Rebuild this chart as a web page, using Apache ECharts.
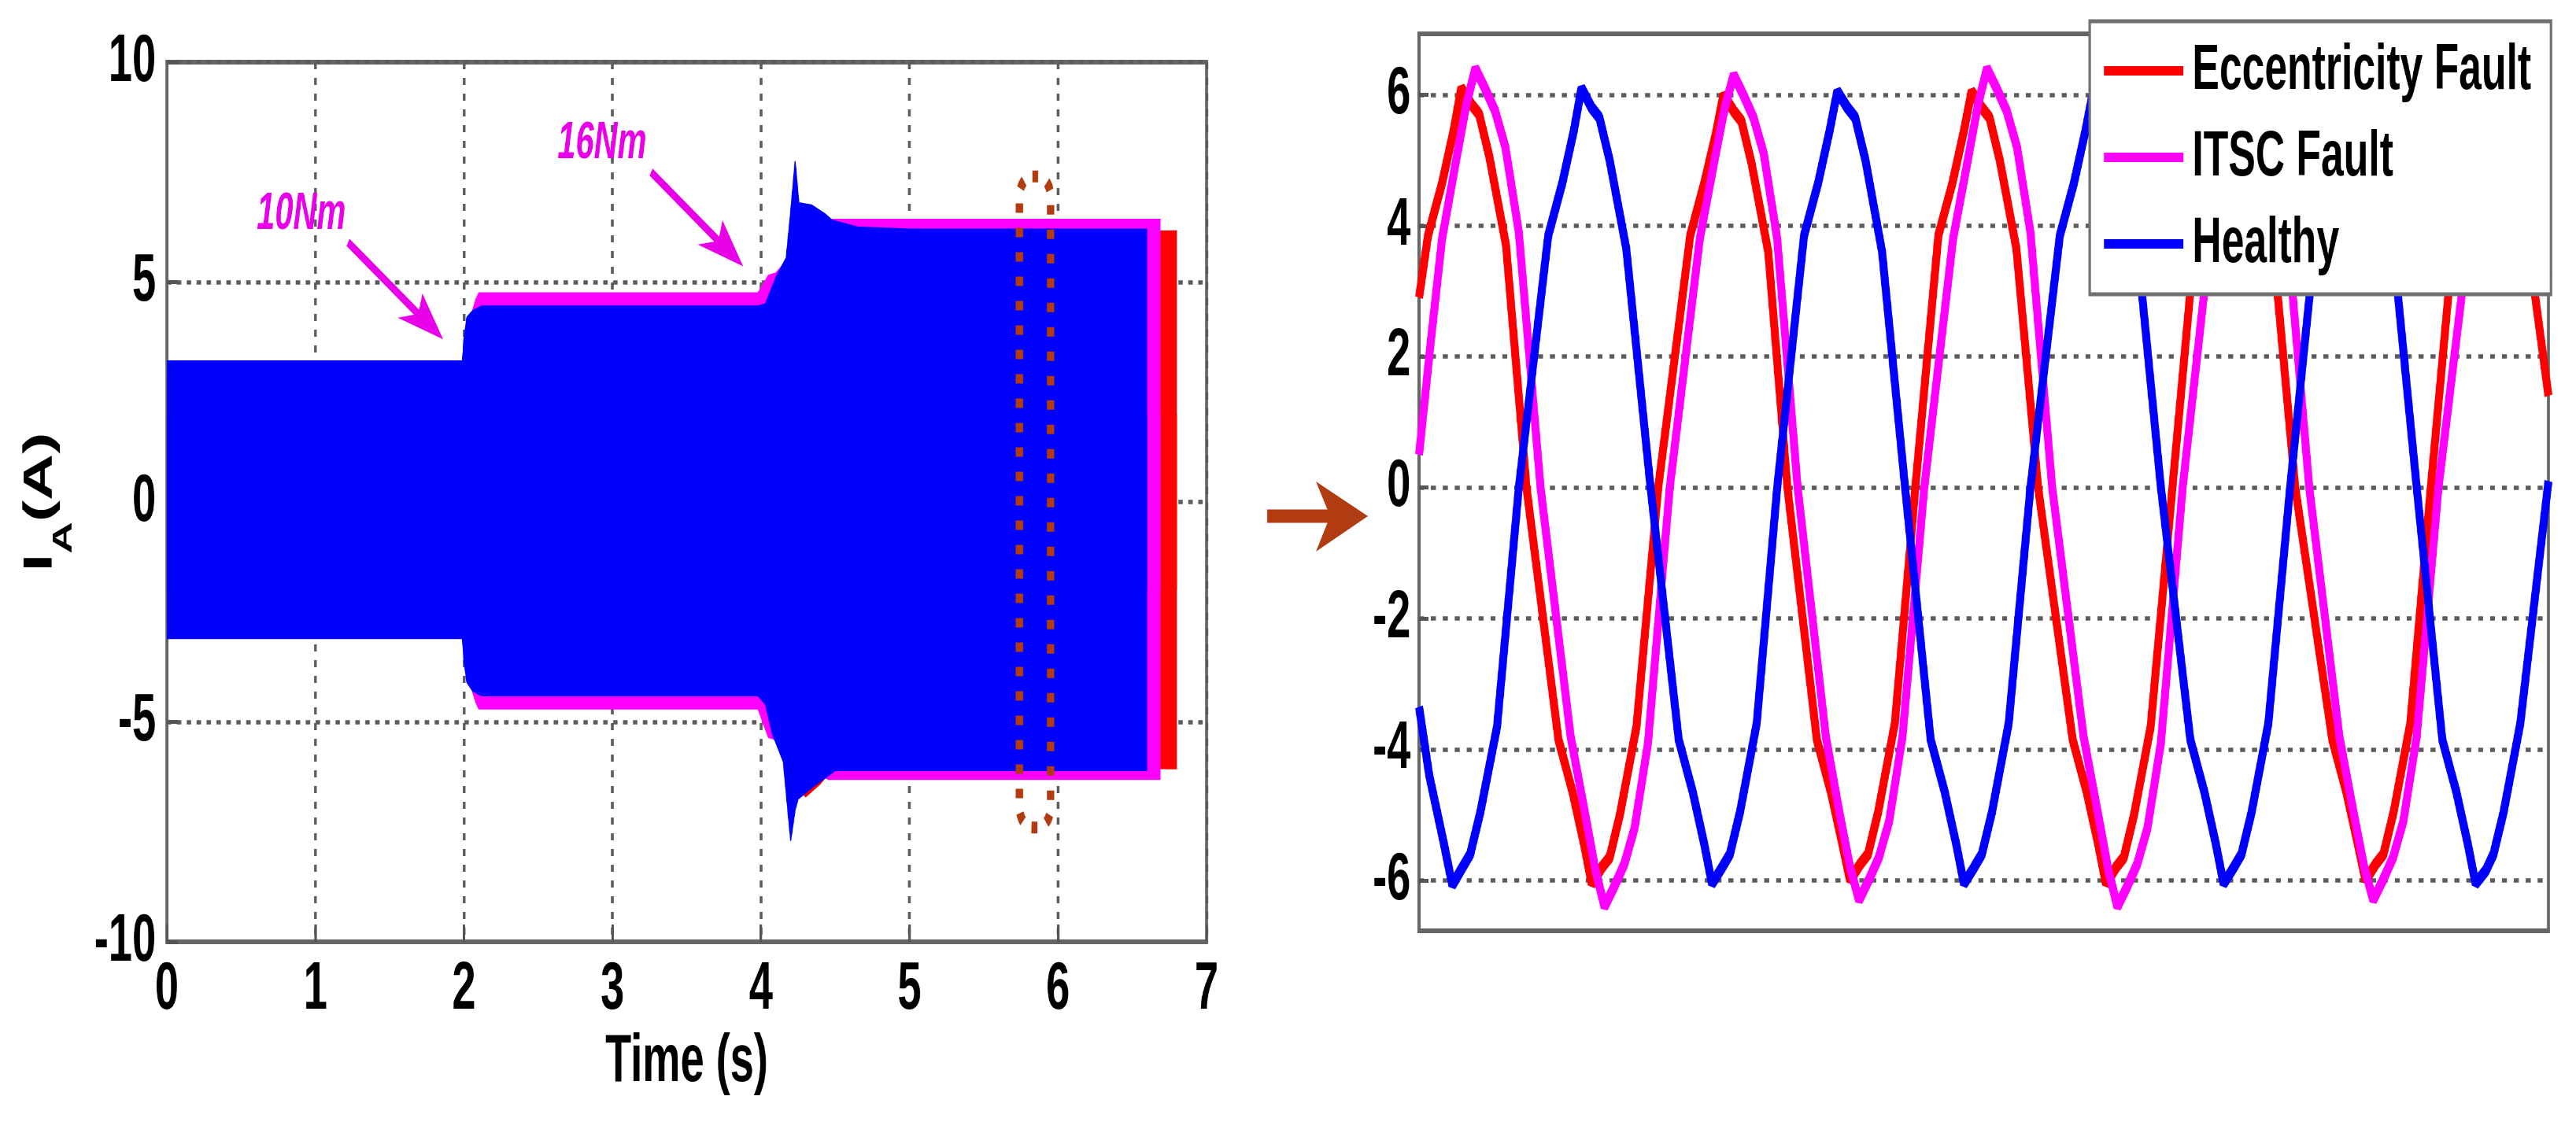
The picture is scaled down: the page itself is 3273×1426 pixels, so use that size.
<!DOCTYPE html>
<html>
<head>
<meta charset="utf-8">
<script src="https://cdn.jsdelivr.net/npm/echarts@6/dist/echarts.min.js"></script>
<style>
html,body{margin:0;padding:0;background:#fff;overflow:hidden}
#wrap{position:absolute;left:0;top:0;width:3273px;height:1426px;overflow:hidden;background:#fff}
#chart{width:5195px;height:1426px;transform:scaleX(0.63);transform-origin:0 0}
</style>
</head>
<body>
<div id="wrap"><div id="chart"></div></div>
<script>
// ---------------- DATA ----------------
// Left panel: phase-A current envelopes over time (s)
const healthyUpper = [[0,3.2],[1.99,3.2],[2.0,3.7],[2.02,4.2],[2.06,4.35],[2.12,4.45],[3.98,4.45],[4.03,4.5],[4.1,5.1],[4.17,5.55],[4.2,6.6],[4.23,7.75],[4.255,6.8],[4.34,6.75],[4.43,6.55],[4.48,6.4],[4.65,6.25],[5.0,6.2],[5.5,6.2],[6.0,6.2],[6.6,6.2]];
const healthyLower = [[0,-3.1],[1.99,-3.1],[2.0,-3.6],[2.02,-4.1],[2.06,-4.3],[2.12,-4.4],[3.98,-4.4],[4.03,-4.6],[4.08,-5.3],[4.15,-5.9],[4.2,-7.7],[4.23,-7.0],[4.25,-6.75],[4.34,-6.5],[4.44,-6.25],[4.5,-6.1],[5.0,-6.1],[6.0,-6.1],[6.6,-6.1]];
const itscUpper = [[0,2.9],[1.99,2.9],[2.02,3.9],[2.08,4.6],[2.1,4.75],[3.98,4.75],[4.05,5.15],[4.1,5.2],[4.3,6.0],[4.45,6.42],[6.69,6.42]];
const itscLower = [[0,-2.9],[1.99,-2.9],[2.02,-3.9],[2.08,-4.55],[2.1,-4.7],[3.98,-4.7],[4.05,-5.35],[4.1,-5.4],[4.3,-6.0],[4.45,-6.3],[6.69,-6.3]];
const eccUpper = [[0,2.8],[1.99,2.8],[2.1,4.3],[3.98,4.3],[4.05,4.4],[4.12,4.9],[4.2,5.5],[4.3,6.0],[4.45,6.1],[6.80,6.16]];
const eccLower = [[0,-2.8],[1.99,-2.8],[2.1,-4.3],[3.98,-4.3],[4.1,-5.0],[4.2,-6.3],[4.3,-6.7],[4.4,-6.4],[4.5,-6.0],[6.80,-6.06]];

// Right panel: zoomed waveforms, time in ms from the start of the window
const eccZoom = [[0.0,2.9],[0.7,3.85],[1.8,4.65],[2.7,5.45],[3.3,6.1],
 [4.1,5.85],[4.7,5.7],[5.5,5.05],[6.8,3.7],[8.4,0.0],[10.9,-3.85],[12.0,-4.65],[12.9,-5.45],[13.5,-6.05],
 [14.3,-5.8],[14.9,-5.65],[15.7,-5.0],[17.0,-3.65],[18.7,0.0],[21.2,3.85],[22.3,4.65],[23.2,5.4],[23.8,6.0],
 [24.6,5.75],[25.2,5.6],[26.0,4.95],[27.3,3.6],[28.8,0.0],[31.1,-3.85],[32.2,-4.65],[33.1,-5.45],[33.7,-6.0],
 [34.5,-5.75],[35.1,-5.6],[35.9,-4.95],[37.2,-3.6],[38.8,0.0],[40.6,3.85],[41.7,4.65],[42.6,5.45],[43.2,6.05],
 [44.0,5.8],[44.6,5.65],[45.4,5.0],[46.7,3.65],[48.4,0.0],[51.1,-3.85],[52.2,-4.65],[53.1,-5.45],[53.7,-6.05],
 [54.5,-5.8],[55.1,-5.65],[55.9,-5.0],[57.2,-3.65],[58.9,0.0],[60.7,3.85],[61.8,4.65],[62.7,5.45],[63.3,6.05],
 [64.1,5.8],[64.7,5.65],[65.5,5.0],[66.8,3.65],[68.5,0.0],[71.4,-3.85],[72.5,-4.65],[73.4,-5.45],[74.0,-6.0],
 [74.8,-5.75],[75.4,-5.6],[76.2,-4.95],[77.5,-3.6],[79.1,0.0],[80.9,3.85],[82.0,4.65],[82.9,5.45],[83.5,6.05],
 [84.3,5.8],[84.9,5.65],[85.7,5.0],[87.0,3.3],[88.3,1.4]];
const itscZoom = [[0.0,0.5],[0.9,2.2],[1.8,3.8],[2.9,5.0],[3.7,5.85],[4.4,6.4],
 [5.15,6.1],[5.95,5.75],[6.75,5.2],[7.8,3.9],[9.5,0.0],[11.85,-3.8],[13.0,-5.0],[13.8,-5.85],[14.5,-6.4],
 [15.25,-6.1],[16.05,-5.75],[16.85,-5.2],[17.9,-3.9],[19.6,0.0],[21.95,3.8],[23.1,5.0],[23.9,5.8],[24.6,6.3],
 [25.35,6.0],[26.15,5.65],[26.95,5.1],[28.0,3.8],[29.6,0.0],[31.8,-3.8],[32.9,-5.0],[33.7,-5.8],[34.4,-6.3],
 [35.15,-6.0],[35.95,-5.65],[36.75,-5.1],[37.8,-3.8],[39.5,0.0],[41.75,3.8],[42.9,5.0],[43.7,5.85],[44.4,6.4],
 [45.15,6.1],[45.95,5.75],[46.75,5.2],[47.8,3.9],[49.5,0.0],[51.95,-3.8],[53.1,-5.0],[53.9,-5.85],[54.6,-6.4],
 [55.35,-6.1],[56.15,-5.75],[56.95,-5.2],[58.0,-3.9],[59.7,0.0],[61.85,3.8],[63.0,5.0],[63.8,5.85],[64.5,6.35],
 [65.25,6.05],[66.05,5.7],[66.85,5.15],[67.9,3.85],[69.6,0.0],[71.95,-3.8],[73.1,-5.0],[73.9,-5.8],[74.6,-6.3],
 [75.35,-6.0],[76.15,-5.65],[76.95,-5.1],[78.0,-3.8],[79.7,0.0],[82.05,3.8],[83.2,5.0],[84.0,5.8],[84.7,6.35],
 [85.45,6.05],[86.25,5.7],[87.05,5.15],[88.3,3.2]];
const healthyZoom = [[0.0,-3.35],[0.8,-4.4],[1.9,-5.4],[2.6,-6.07],
 [3.4,-5.8],[4.0,-5.6],[4.8,-4.95],[6.1,-3.65],[7.8,0.0],[10.1,3.85],[11.2,4.65],[12.1,5.45],[12.7,6.1],
 [13.5,5.8],[14.1,5.65],[14.9,5.0],[16.2,3.65],[18.1,0.0],[20.3,-3.85],[21.4,-4.65],[22.3,-5.45],[22.9,-6.05],
 [23.7,-5.8],[24.3,-5.6],[25.1,-4.95],[26.4,-3.6],[28.0,0.0],[30.1,3.85],[31.2,4.65],[32.1,5.45],[32.7,6.05],
 [33.5,5.8],[34.1,5.65],[34.9,5.0],[36.2,3.6],[38.0,0.0],[40.0,-3.85],[41.1,-4.65],[42.0,-5.45],[42.6,-6.05],
 [43.4,-5.8],[44.0,-5.6],[44.8,-4.95],[46.1,-3.6],[47.8,0.0],[50.1,3.85],[51.2,4.65],[52.1,5.45],[52.7,6.05],
 [53.5,5.8],[54.1,5.65],[54.9,5.0],[56.2,3.6],[58.0,0.0],[60.3,-3.85],[61.4,-4.65],[62.3,-5.45],[62.9,-6.05],
 [63.7,-5.8],[64.3,-5.6],[65.1,-4.95],[66.4,-3.6],[68.1,0.0],[70.1,3.85],[71.2,4.65],[72.1,5.45],[72.7,6.05],
 [73.5,5.8],[74.1,5.65],[74.9,5.0],[76.2,3.6],[78.0,0.0],[80.0,-3.85],[81.1,-4.65],[82.0,-5.45],[82.6,-6.05],
 [83.4,-5.85],[84.0,-5.6],[84.8,-4.95],[86.1,-3.6],[88.3,0.1]];

// Axis ticks / labels
const zoomTicks = [-6,-4,-2,0,2,4,6];
const seriesNames = ['Eccentricity Fault','ITSC Fault','Healthy'];

// Annotations (data coordinates of the left panel)
const loadLabels = [{name:'10Nm', coord:[0.905,6.53]},{name:'16Nm', coord:[2.93,8.15]}];
const loadArrows = [[[1.22,5.9],[1.86,3.7]],[[3.26,7.5],[3.88,5.36]]];
const zoomWindow = {t0:5.74, t1:5.95, lo:-7.4, hi:7.4};

// ---------------- CHART ----------------
const S = 0.63;                 // horizontal compression of the whole figure
const px = v => v / S;          // convert a target screen x into canvas x
const F = 'Liberation Sans, Arial, sans-serif';
const RED = '#FF0000', MAG = '#FF00FF', BLUE = '#0000FF', PINK = '#E800E8';
const BOX = '#666666', GRID = '#5c5c5c';
const tickFont = {fontSize:86, fontWeight:'bold', color:'#000', fontFamily:F};

const chart = echarts.init(document.getElementById('chart'), null, {renderer:'canvas'});

function env(name, data, color, origin, z, extra) {
  return Object.assign({
    type:'line', name, xAxisIndex:0, yAxisIndex:0, data, z,
    showSymbol:false, symbol:'none', silent:true,
    lineStyle:{color, width:2}, itemStyle:{color},
    areaStyle:{color, opacity:1, origin}
  }, extra || {});
}

const option = {
  animation:false,
  backgroundColor:'#fff',
  grid:[
    {left:px(212), top:79, width:px(1533-212), height:1118, show:true, borderColor:BOX, borderWidth:6, backgroundColor:'#fff'},
    {left:px(1803), top:43, width:px(3238-1803), height:1140, show:true, borderColor:BOX, borderWidth:6, backgroundColor:'#fff'}
  ],
  xAxis:[
    {gridIndex:0, type:'value', min:0, max:7, interval:1,
     axisLine:{show:true, onZero:false, lineStyle:{color:BOX, width:6}},
     axisTick:{show:true, inside:true, length:22, lineStyle:{color:'#555', width:5}},
     axisLabel:Object.assign({margin:18}, tickFont),
     splitLine:{show:true, lineStyle:{color:GRID, width:5.5, type:[9,11]}},
     name:'Time (s)', nameLocation:'middle', nameGap:110,
     nameTextStyle:{fontSize:86, fontWeight:'bold', color:'#000', fontFamily:F}},
    {gridIndex:1, type:'value', min:0, max:88.3,
     axisLine:{show:true, onZero:false, lineStyle:{color:BOX, width:6}},
     axisTick:{show:false}, axisLabel:{show:false}, splitLine:{show:false}}
  ],
  yAxis:[
    {gridIndex:0, type:'value', min:-10, max:10, interval:5,
     axisLine:{show:true, onZero:false, lineStyle:{color:BOX, width:6}},
     axisTick:{show:true, inside:true, length:px(14), lineStyle:{color:'#555', width:5}},
     axisLabel:Object.assign({margin:22}, tickFont),
     splitLine:{show:true, lineStyle:{color:GRID, width:5.5, type:[9,11]}},
     name:'{i|I}{s|A}{i|(A)}', nameLocation:'middle', nameRotate:90, nameGap:180,
     nameTextStyle:{rich:{
       i:{fontSize:82, fontWeight:'bold', color:'#000', fontFamily:F, lineHeight:150, verticalAlign:'middle'},
       s:{fontSize:56, fontWeight:'bold', color:'#000', fontFamily:F, lineHeight:56, verticalAlign:'bottom'}
     }}},
    {gridIndex:1, type:'value', min:-6.77, max:6.93,
     axisLine:{show:true, onZero:false, lineStyle:{color:BOX, width:6}},
     axisTick:{show:true, inside:true, length:px(12), customValues:zoomTicks, lineStyle:{color:'#555', width:5}},
     axisLabel:Object.assign({margin:17, customValues:zoomTicks}, tickFont),
     splitLine:{show:true, lineStyle:{color:GRID, width:5.5, type:[10,14]}}}
  ],
  legend:{
    data:seriesNames, orient:'vertical', left:px(2655), top:27, z:20,
    padding:[21,40,22,29], itemGap:26, itemWidth:160, itemHeight:12, icon:'rect',
    textStyle:{fontSize:82, fontWeight:'bold', color:'#000', fontFamily:F, lineHeight:84, padding:[0,0,0,13]},
    backgroundColor:'#fff', borderColor:'#707070', borderWidth:5, borderRadius:0,
    selectedMode:false
  },
  series:[
    env('Eccentricity Fault (envelope +)', eccUpper, RED, -2, 2),
    env('Eccentricity Fault (envelope -)', eccLower, RED, 2, 2),
    env('ITSC Fault (envelope +)', itscUpper, MAG, -2, 3),
    env('ITSC Fault (envelope -)', itscLower, MAG, 2, 3),
    env('Healthy (envelope +)', healthyUpper, BLUE, -2, 4),
    env('Healthy (envelope -)', healthyLower, BLUE, 2, 4, {
      markPoint:{silent:true, symbol:'rect', symbolSize:1, itemStyle:{color:'rgba(0,0,0,0)'},
        label:{show:true, position:'inside', formatter:'{b}', color:PINK, fontSize:66,
               fontWeight:'bold', fontStyle:'italic', fontFamily:F},
        data:loadLabels.map(l => ({name:l.name, coord:l.coord}))}
    }),
    {type:'line', name:seriesNames[0], xAxisIndex:1, yAxisIndex:1, data:eccZoom, z:5,
     showSymbol:false, symbol:'none', lineStyle:{color:RED, width:16}, itemStyle:{color:RED}},
    {type:'line', name:seriesNames[1], xAxisIndex:1, yAxisIndex:1, data:itscZoom, z:6,
     showSymbol:false, symbol:'none', lineStyle:{color:MAG, width:16}, itemStyle:{color:MAG}},
    {type:'line', name:seriesNames[2], xAxisIndex:1, yAxisIndex:1, data:healthyZoom, z:7,
     showSymbol:false, symbol:'none', lineStyle:{color:BLUE, width:16}, itemStyle:{color:BLUE}}
  ]
};
chart.setOption(option);

// Annotations positioned through the chart's own coordinate conversion
const toPx = c => chart.convertToPixel({xAxisIndex:0, yAxisIndex:0}, c);
const graphics = [];
loadArrows.forEach(a => {
  const s = toPx(a[0]), e = toPx(a[1]);
  // work in on-screen (compressed) space so the head keeps its shape
  const sx = s[0]*S, ex = e[0]*S;
  const dx = ex - sx, dy = e[1] - s[1], L = Math.hypot(dx, dy);
  const ux = dx / L, uy = dy / L, nx = -uy, ny = ux;
  const HL = 60, HW = 22;
  const bx = ex - ux*HL, by = e[1] - uy*HL;
  const mx = ex - ux*HL*0.75, my = e[1] - uy*HL*0.75;
  graphics.push({type:'line', z:50, silent:true,
    shape:{x1:s[0], y1:s[1], x2:mx/S, y2:my},
    style:{stroke:PINK, lineWidth:11, lineCap:'butt'}});
  graphics.push({type:'polygon', z:50, silent:true,
    shape:{points:[[ex/S, e[1]], [(bx+nx*HW)/S, by+ny*HW], [mx/S, my], [(bx-nx*HW)/S, by-ny*HW]]},
    style:{fill:PINK}});
});
const p1 = toPx([zoomWindow.t0, zoomWindow.hi]);
const p2 = toPx([zoomWindow.t1, zoomWindow.lo]);
const BROWN = '#B23C12';
graphics.push(
  {type:'rect', z:50, silent:true,
   shape:{x:p1[0], y:p1[1], width:p2[0]-p1[0], height:p2[1]-p1[1], r:26},
   style:{fill:null, stroke:BROWN, lineWidth:15, lineDash:[12,19], lineCap:'butt'}},
  {type:'line', z:50, silent:true,
   shape:{x1:px(1610), y1:656, x2:px(1700), y2:656},
   style:{stroke:BROWN, lineWidth:17}},
  {type:'polygon', z:50, silent:true,
   shape:{points:[[px(1672),612],[px(1738),656],[px(1672),701],[px(1690),656]]},
   style:{fill:BROWN}}
);
chart.setOption({graphic:graphics});
</script>
</body>
</html>
